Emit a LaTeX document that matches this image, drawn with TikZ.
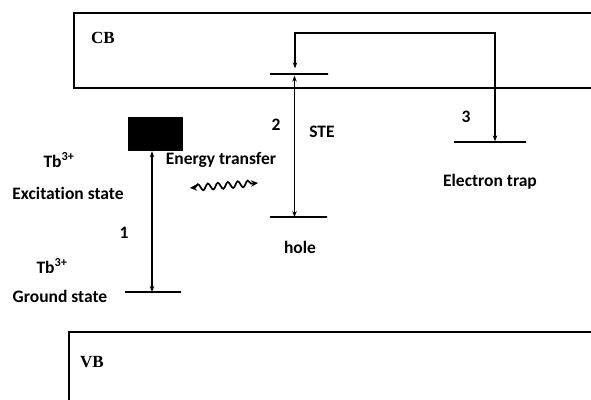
\documentclass[tikz,border=0pt]{standalone}
\usepackage{fontspec}
\setmainfont{Carlito}[Ligatures=NoCommon]
\newfontfamily\bandfont{Liberation Serif}
\usetikzlibrary{arrows.meta, decorations.pathmorphing, calc}
\tikzstyle{band} = [draw=black, line width=1.5pt]
\tikzstyle{bandlabel} = [font=\bandfont\fontsize{17}{20}\selectfont\bfseries, inner sep=0pt]
\tikzstyle{level} = [rectangle, draw=black, line width=1.3pt, inner sep=0pt, minimum height=0pt]
\tikzstyle{txt} = [font=\fontsize{17.5}{21}\selectfont\bfseries, inner sep=0pt]
\tikzstyle{dblarrow} = [{Stealth[length=6pt,width=4.5pt]}-{Stealth[length=6pt,width=4.5pt]}, line width=1.1pt]
\tikzstyle{wave} = [{Stealth[length=7pt,width=6.5pt]}-{Stealth[length=7pt,width=6.5pt]}, line width=1.7pt,
                    decorate, decoration={snake, amplitude=3.2pt, segment length=10pt, pre length=5pt, post length=5pt}]

\begin{document}
\begin{tikzpicture}[x=1pt, y=-1pt]

\useasboundingbox (0,0) rectangle (591,399);

% Bands (open to the right)
\draw[band] (596,13) -- (74,13) -- (74,88) -- (596,88);
\node[bandlabel] (cblabel) at (103,38) {CB};
\draw[band] (596,332) -- (69,332) -- (69,404);
\node[bandlabel] (vblabel) at (92,362) {VB};

% Tb3+ levels
\node[fill=black, minimum width=55, minimum height=34, inner sep=0pt] (exc) at (155.5,134) {};
\node[level, minimum width=56] (ground) at (153,292) {};
\node[txt] (tbexc) at (59,160) {Tb\textsuperscript{3+}};
\node[txt] (excstate) at (68,193) {Excitation state};
\node[txt] (tbgr) at (52,266) {Tb\textsuperscript{3+}};
\node[txt] (grstate) at (60,296) {Ground state};
\node[txt] (one) at (124,233) {1};

% STE and hole
\node[level, minimum width=58] (ste) at (299,74) {};
\node[level, minimum width=57] (hole) at (298.5,217) {};
\node[txt] (two) at (276,125) {2};
\node[txt] (stelabel) at (322,132) {STE};
\node[txt] (holelabel) at (300,247) {hole};

% Electron trap
\node[level, minimum width=72] (trap) at (490,142) {};
\node[txt] (three) at (466,117) {3};
\node[txt] (traplabel) at (490,182) {Electron trap};

% Energy transfer
\node[txt] (etlabel) at (221,160) {Energy transfer};
\coordinate (waveL) at (190,188);
\coordinate (waveR) at (258,183);
\draw[wave] (waveL) -- (waveR);

% Arrows
\draw[dblarrow] ([xshift=-1pt]ground.center) -- ([xshift=-1pt]ground.center |- exc.south);
\draw[dblarrow] ([xshift=-4pt]hole.center) -- ([xshift=-4pt,yshift=-1pt]hole.center |- ste.south);
\coordinate (turn) at (400,33);
\draw[dblarrow] ([xshift=-4pt,yshift=5pt]ste.north) |- (turn) -| ([xshift=5pt]trap.north);

\end{tikzpicture}
\end{document}
